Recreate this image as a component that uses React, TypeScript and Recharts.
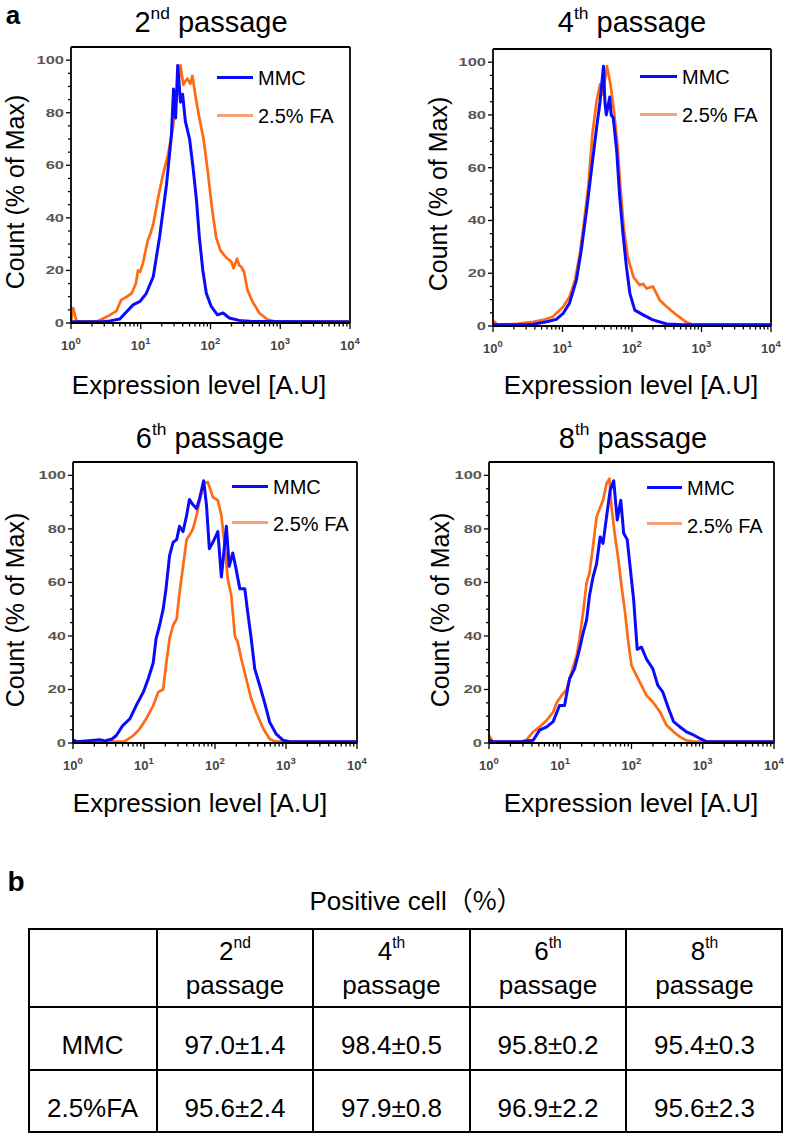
import React from 'react';
import { LineChart, Line, XAxis, YAxis, ReferenceLine } from 'recharts';

const FONT = 'Arial, "Liberation Sans", Helvetica, sans-serif';
const BLUE = '#0a0aff';
const ORANGE = '#ff6a12';
const ORANGE_KEY = '#f8a27c';

// histogram points: [log10 of expression level, count (% of max)]
const mmc2nd: [number, number][] = [
  [0, 0.5], [0.45, 0.5], [0.56, 0.8], [0.7, 1.5], [0.8, 4.4], [0.89, 6.9], [0.99, 8.2], [1.08, 11.3],
  [1.18, 17.7], [1.27, 32.7], [1.37, 52.8], [1.44, 71.7], [1.47, 89], [1.5, 78], [1.53, 98], [1.57, 84],
  [1.6, 87], [1.64, 76.7], [1.7, 70], [1.75, 59], [1.8, 46.5], [1.84, 32.7], [1.89, 20], [1.94, 11.3],
  [2.01, 6.3], [2.1, 3.1], [2.18, 3.8], [2.27, 1.9], [2.41, 1], [2.6, 0.6], [4, 0.5],
];
const fa2nd: [number, number][] = [
  [0, 0.5], [0.03, 5.7], [0.08, 0.6], [0.37, 0.6], [0.45, 1.5], [0.56, 3.1], [0.65, 4.5], [0.72, 8.8],
  [0.8, 10], [0.87, 11.3], [0.93, 15], [0.96, 20], [0.99, 19.5], [1.03, 22.6], [1.1, 31.4], [1.14, 34],
  [1.18, 37.7], [1.25, 47.8], [1.32, 56.6], [1.39, 64], [1.46, 74], [1.53, 89], [1.57, 98], [1.61, 90.6],
  [1.64, 92], [1.67, 93], [1.71, 91], [1.74, 94], [1.79, 85.5], [1.84, 78], [1.9, 70], [1.96, 57.9],
  [2.02, 44], [2.08, 32.7], [2.14, 27.7], [2.22, 25], [2.3, 23.3], [2.33, 20.8], [2.38, 24.5], [2.41, 22],
  [2.44, 21.4], [2.48, 19.5], [2.53, 12.6], [2.6, 8.2], [2.7, 3.8], [2.82, 1.3], [2.94, 0.5], [4, 0.5],
];
const mmc4th: [number, number][] = [
  [0, 0.5], [0.48, 0.5], [0.58, 0.7], [0.77, 1.6], [0.91, 2.5], [1.01, 4.8], [1.1, 8.6], [1.2, 17.4],
  [1.27, 28.7], [1.34, 42.5], [1.42, 60], [1.49, 75], [1.54, 85], [1.59, 98.5], [1.61, 85], [1.63, 80],
  [1.68, 86.8], [1.7, 80], [1.73, 79], [1.78, 66.4], [1.82, 50], [1.87, 35], [1.92, 22.4], [1.97, 12.3],
  [2.04, 6], [2.16, 4.2], [2.3, 2.3], [2.5, 0.75], [2.74, 0.5], [4, 0.5],
];
const fa4th: [number, number][] = [
  [0, 0.5], [0.02, 1.6], [0.06, 0.5], [0.34, 0.8], [0.58, 1.6], [0.72, 2.3], [0.86, 3.5], [1.01, 7.3],
  [1.1, 11], [1.18, 17.4], [1.25, 27.4], [1.3, 37.5], [1.37, 52.6], [1.43, 72.7], [1.49, 85], [1.54, 91.6],
  [1.58, 87.8], [1.64, 98.5], [1.69, 91.6], [1.74, 81.5], [1.79, 69], [1.83, 53.8], [1.88, 37.5], [1.94, 26],
  [2.02, 18.6], [2.11, 15.5], [2.16, 16], [2.21, 14.2], [2.3, 15], [2.4, 9.8], [2.5, 7.3], [2.64, 4.2],
  [2.79, 1.3], [2.88, 0.5], [4, 0.5],
];
const mmc6th: [number, number][] = [
  [0, 1.2], [0.05, 0.5], [0.38, 1.2], [0.45, 0.8], [0.55, 1.5], [0.61, 2.8], [0.7, 6.5], [0.8, 9],
  [0.89, 14], [0.99, 19], [1.06, 24], [1.13, 30], [1.17, 39], [1.22, 44], [1.27, 50], [1.31, 57.6],
  [1.36, 70], [1.41, 75], [1.46, 76], [1.5, 81], [1.55, 79], [1.6, 85], [1.64, 91], [1.69, 89],
  [1.74, 87.6], [1.78, 91], [1.84, 98], [1.88, 89], [1.92, 72.6], [1.97, 75], [2.04, 79], [2.09, 62],
  [2.12, 70], [2.16, 81], [2.2, 66], [2.25, 71], [2.29, 66], [2.35, 57.6], [2.42, 57.6], [2.46, 49],
  [2.51, 39], [2.56, 27.7], [2.63, 21.5], [2.7, 15], [2.77, 7.8], [2.86, 3.4], [2.96, 1], [3.05, 0.5], [4, 0.5],
];
const fa6th: [number, number][] = [
  [0, 0.5], [0.71, 0.5], [0.75, 1], [0.85, 2.8], [0.94, 5.3], [1.03, 9], [1.13, 14], [1.2, 19],
  [1.27, 20], [1.31, 29], [1.36, 39], [1.41, 44], [1.46, 46.4], [1.5, 56], [1.55, 66], [1.6, 76],
  [1.64, 77.6], [1.69, 80], [1.74, 85], [1.78, 90], [1.84, 97], [1.9, 97.5], [1.97, 91.9], [2.04, 90.7],
  [2.09, 85], [2.14, 72.6], [2.18, 61.4], [2.23, 55], [2.28, 40], [2.32, 37.7], [2.37, 31.5], [2.44, 24],
  [2.51, 16.5], [2.58, 11.5], [2.68, 5.3], [2.77, 1.5], [2.86, 0.5], [4, 0.5],
];
const mmc8th: [number, number][] = [
  [0, 1.2], [0.05, 0.5], [0.45, 0.5], [0.62, 1], [0.71, 4.8], [0.81, 6], [0.9, 8], [0.99, 14],
  [1.06, 14], [1.13, 24], [1.2, 27.7], [1.27, 35], [1.32, 41], [1.37, 46], [1.41, 55], [1.46, 62],
  [1.51, 67], [1.56, 77], [1.6, 74.6], [1.65, 84.5], [1.7, 94.4], [1.75, 98], [1.8, 83.3], [1.85, 90.7],
  [1.89, 78.4], [1.94, 76], [1.99, 63.5], [2.03, 53.6], [2.08, 35], [2.14, 35.8], [2.21, 31.4], [2.3, 27.7],
  [2.37, 21.5], [2.44, 19], [2.52, 12.9], [2.59, 8], [2.68, 6], [2.77, 4.2], [2.87, 3], [2.96, 1.7],
  [3.05, 0.5], [4, 0.5],
];
const fa8th: [number, number][] = [
  [0, 0.5], [0.01, 2.5], [0.05, 0.5], [0.45, 0.5], [0.52, 1], [0.62, 4.2], [0.71, 6], [0.81, 8.5],
  [0.9, 11.6], [0.95, 15], [1.02, 17.8], [1.09, 20], [1.16, 26.5], [1.23, 32.6], [1.27, 38.8], [1.32, 48.7],
  [1.37, 60], [1.41, 63.5], [1.46, 73.5], [1.51, 84.5], [1.56, 88], [1.6, 90.7], [1.65, 97], [1.69, 98.8],
  [1.72, 88], [1.77, 77], [1.81, 69.7], [1.86, 58.6], [1.91, 48.7], [1.95, 38.8], [2.0, 29], [2.07, 25.2],
  [2.14, 21.5], [2.21, 17.8], [2.3, 15.3], [2.4, 11.6], [2.49, 6.7], [2.59, 4.2], [2.68, 2.3], [2.77, 1],
  [2.87, 0.5], [4, 0.5],
];

// table b
const passageNumbers = [2, 4, 6, 8];
const passageSuffixes = ['nd', 'th', 'th', 'th'];
const mmcMean = [97.0, 98.4, 95.8, 95.4];
const mmcSd = [1.4, 0.5, 0.2, 0.3];
const faMean = [95.6, 97.9, 96.9, 95.6];
const faSd = [2.4, 0.8, 2.2, 2.3];

// axis ticks: decades with log minor ticks, counts every 5
const xTicks: number[] = [];
for (let d = 0; d < 4; d++) for (let k = 1; k < 10; k++) xTicks.push(d + Math.log10(k));
xTicks.push(4);
const yTicks = Array.from({ length: 21 }, (_, i) => i * 5);

const toPts = (arr: [number, number][]) => arr.map(([x, y]) => ({ x, y }));

function XTick(props: any) {
  const { x, y, payload } = props;
  const v = payload.value;
  const major = Math.abs(v - Math.round(v)) < 1e-6;
  return (
    <g>
      <line x1={x} x2={x} y1={y} y2={y + (major ? 6 : 3.5)} stroke="#000" strokeWidth={1.3} />
      {major && (
        <text x={x} y={y + 27} textAnchor="middle" fontFamily={FONT} fontWeight="bold" fill="#454545">
          <tspan fontSize={13}>10</tspan>
          <tspan fontSize={9.5} dy={-6}>{Math.round(v)}</tspan>
        </text>
      )}
    </g>
  );
}

function YTick(props: any) {
  const { x, y, payload } = props;
  const v = payload.value;
  const major = v % 20 === 0;
  return (
    <g>
      <line x1={x - (major ? 5 : 3)} x2={x} y1={y} y2={y} stroke="#000" strokeWidth={1.3} />
      {major && (
        <text transform={`translate(${x - 7},${y + 4}) scale(1.5,1)`} textAnchor="end"
          fontSize={11} fontWeight="bold" fill="#5a5553" fontFamily={FONT}>{v}</text>
      )}
    </g>
  );
}

function Txt({ x, y, size, children, anchor = 'middle', bold = false, rotate = false }: any) {
  const tx = anchor === 'middle' ? '-50%' : anchor === 'end' ? '-100%' : '0';
  return (
    <div style={{
      position: 'absolute', left: x, top: y, whiteSpace: 'nowrap', lineHeight: 1,
      transform: `translate(${tx},-50%)${rotate ? ' rotate(-90deg)' : ''}`,
      fontSize: size, fontFamily: FONT, fontWeight: bold ? 'bold' : 'normal', color: '#000',
    }}>{children}</div>
  );
}

const Sup = ({ children }: any) => (
  <span style={{ fontSize: '0.6em', position: 'relative', top: '-0.75em' }}>{children}</span>
);

function Panel({ f, mmc, fa }: any) {
  const w = f.r - f.l;
  const h = f.b - f.t;
  return (
    <div style={{ position: 'absolute', left: f.l - 70, top: f.t - 10 }}>
      <LineChart width={w + 90} height={h + 50} margin={{ top: 10, right: 20, bottom: 0, left: 0 }}>
        <XAxis type="number" dataKey="x" domain={[0, 4]} ticks={xTicks} interval={0} allowDataOverflow
          tick={<XTick />} tickSize={0} tickMargin={0} height={40}
          axisLine={{ stroke: '#000', strokeWidth: 1.8 }} />
        <YAxis type="number" domain={[0, 105]} ticks={yTicks} interval={0} allowDataOverflow
          tick={<YTick />} tickSize={0} tickMargin={0} width={70}
          axisLine={{ stroke: '#000', strokeWidth: 1.8 }} />
        <ReferenceLine x={4} stroke="#000" strokeWidth={1.8} />
        <ReferenceLine y={105} stroke="#000" strokeWidth={1.8} />
        <Line data={toPts(fa)} dataKey="y" type="linear" dot={false} stroke={ORANGE} strokeWidth={2.7}
          strokeLinejoin="round" isAnimationActive={false} />
        <Line data={toPts(mmc)} dataKey="y" type="linear" dot={false} stroke={BLUE} strokeWidth={3}
          strokeLinejoin="round" isAnimationActive={false} />
      </LineChart>
    </div>
  );
}

function Key({ x, y1, y2, tx, ty1, ty2 }: any) {
  return (
    <>
      <div style={{ position: 'absolute', left: x, top: y1 - 1.5, width: tx - x - 5, height: 3, background: BLUE }} />
      <div style={{ position: 'absolute', left: x, top: y2 - 1.5, width: tx - x - 5, height: 3, background: ORANGE_KEY }} />
      <Txt x={tx} y={ty1} size={20} anchor="start">MMC</Txt>
      <Txt x={tx} y={ty2} size={20} anchor="start">2.5% FA</Txt>
    </>
  );
}

const panels = [
  { f: { l: 71, r: 350, t: 47, b: 323 }, mmc: mmc2nd, fa: fa2nd, title: [211, 22], yl: [15, 192], xl: [199, 385],
    key: { x: 217, y1: 77, y2: 115, tx: 258, ty1: 78, ty2: 116 } },
  { f: { l: 493, r: 771, t: 49, b: 326 }, mmc: mmc4th, fa: fa4th, title: [632, 22], yl: [438, 194], xl: [631, 385],
    key: { x: 640, y1: 76, y2: 114, tx: 682, ty1: 77, ty2: 115 } },
  { f: { l: 73, r: 357, t: 462, b: 743 }, mmc: mmc6th, fa: fa6th, title: [210, 438], yl: [15, 610], xl: [200, 803],
    key: { x: 232, y1: 486, y2: 522, tx: 273, ty1: 487, ty2: 524 } },
  { f: { l: 489, r: 774, t: 462, b: 743 }, mmc: mmc8th, fa: fa8th, title: [633, 438], yl: [440, 610], xl: [631, 803],
    key: { x: 647, y1: 487, y2: 523, tx: 687, ty1: 488, ty2: 526 } },
];

const colX = [28, 157, 313, 470, 626, 783];
const rowY = [928, 1007, 1070, 1133];

export default function App() {
  const mid = (i: number) => (colX[i] + colX[i + 1]) / 2;
  return (
    <div style={{ position: 'absolute', left: 0, top: 0, width: 787, height: 1135, background: '#fff', overflow: 'hidden' }}>
      <Txt x={13} y={15} size={26} bold>a</Txt>
      {panels.map((p, i) => (
        <React.Fragment key={i}>
          <Panel f={p.f} mmc={p.mmc} fa={p.fa} />
          <Txt x={p.title[0]} y={p.title[1]} size={29}>
            {passageNumbers[i]}<Sup>{passageSuffixes[i]}</Sup> passage
          </Txt>
          <Txt x={p.yl[0]} y={p.yl[1]} size={25} rotate>Count (% of Max)</Txt>
          <Txt x={p.xl[0]} y={p.xl[1]} size={26}>Expression level [A.U]</Txt>
          <Key {...p.key} />
        </React.Fragment>
      ))}

      <Txt x={16} y={882} size={28} bold>b</Txt>
      <Txt x={416} y={900} size={26}>
        Positive cell<span style={{ fontFamily: '"Noto Sans CJK SC", sans-serif' }}>（%）</span>
      </Txt>

      <div style={{ position: 'absolute', left: colX[0], top: rowY[0], width: colX[5] - colX[0], height: rowY[3] - rowY[0],
        border: '2px solid #000', boxSizing: 'border-box' }} />
      {colX.slice(1, 5).map((x) => (
        <div key={'c' + x} style={{ position: 'absolute', left: x - 1, top: rowY[0], width: 2, height: rowY[3] - rowY[0], background: '#000' }} />
      ))}
      {rowY.slice(1, 3).map((y) => (
        <div key={'r' + y} style={{ position: 'absolute', left: colX[0], top: y - 1, width: colX[5] - colX[0], height: 2, background: '#000' }} />
      ))}

      {passageNumbers.map((n, i) => (
        <React.Fragment key={'h' + i}>
          <Txt x={mid(i + 1)} y={951} size={26}>{n}<Sup>{passageSuffixes[i]}</Sup></Txt>
          <Txt x={mid(i + 1)} y={985} size={26}>passage</Txt>
          <Txt x={mid(i + 1)} y={1045} size={26}>{mmcMean[i].toFixed(1)}±{mmcSd[i].toFixed(1)}</Txt>
          <Txt x={mid(i + 1)} y={1108} size={26}>{faMean[i].toFixed(1)}±{faSd[i].toFixed(1)}</Txt>
        </React.Fragment>
      ))}
      <Txt x={mid(0)} y={1045} size={26}>MMC</Txt>
      <Txt x={mid(0)} y={1108} size={26}>2.5%FA</Txt>
    </div>
  );
}
